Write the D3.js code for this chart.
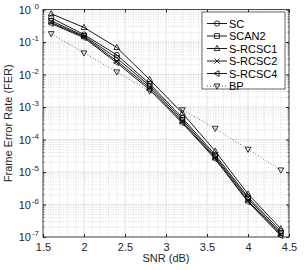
<!DOCTYPE html>
<html><head><meta charset="utf-8">
<script src="https://cdn.jsdelivr.net/npm/d3@7"></script>
<style>body{margin:0;background:#fff;} svg{display:block;font-family:"Liberation Sans",Arial,sans-serif;}</style>
</head><body>
<svg id="c" width="305" height="270"></svg>
<script>
const snr = [1.6, 2.0, 2.4, 2.8, 3.2, 3.6, 4.0, 4.4];
const seriesNames = ["SC", "SCAN2", "S-RCSC1", "S-RCSC2", "S-RCSC4", "BP"];
const SC      = [0.55, 0.17, 0.040, 0.0052, 4.6e-4, 3.4e-5, 1.7e-6, 1.5e-7];
const SCAN2   = [0.45, 0.155, 0.032, 0.0045, 4.0e-4, 3.0e-5, 1.5e-6, 1.3e-7];
const SRCSC1  = [0.74, 0.28, 0.068, 0.0070, 6.5e-4, 4.4e-5, 2.1e-6, 1.8e-7];
const SRCSC2  = [0.40, 0.145, 0.026, 0.0039, 3.5e-4, 2.7e-5, 1.3e-6, 1.2e-7];
const SRCSC4  = [0.37, 0.135, 0.023, 0.0034, 3.2e-4, 2.5e-5, 1.2e-6, 1.1e-7];
const BP      = [0.18, 0.046, 0.012, 0.0031, 8.2e-4, 2.2e-4, 5.0e-5, 1.15e-5];
const xTicks = [1.5, 2, 2.5, 3, 3.5, 4, 4.5];
const yExps = [0, -1, -2, -3, -4, -5, -6, -7];

const data = [
  {name: "SC", vals: SC, marker: "circle", dash: null},
  {name: "SCAN2", vals: SCAN2, marker: "square", dash: null},
  {name: "S-RCSC1", vals: SRCSC1, marker: "triUp", dash: null},
  {name: "S-RCSC2", vals: SRCSC2, marker: "x", dash: null},
  {name: "S-RCSC4", vals: SRCSC4, marker: "triLeft", dash: null},
  {name: "BP", vals: BP, marker: "triDown", dash: "1,2"}
];

const L = 43, R = 289, T = 9.5, B = 237;
const svg = d3.select("#c");
const x = d3.scaleLinear().domain([1.5, 4.5]).range([L, R]);
const y = d3.scaleLog().domain([1e-7, 1]).range([B, T]);

// grid
const g = svg.append("g");
const xMinor = d3.range(15, 46).map(v => v / 10);
xMinor.forEach(v => {
  if (Math.abs(v * 2 - Math.round(v * 2)) > 1e-6) {
    g.append("line").attr("x1", x(v)).attr("x2", x(v)).attr("y1", T).attr("y2", B)
      .attr("stroke", "#c8c8c8").attr("stroke-width", 0.6).attr("stroke-dasharray", "1,1.5");
  }
});
for (let e = -7; e < 0; e++) {
  for (let m = 2; m <= 9; m++) {
    const v = m * Math.pow(10, e);
    g.append("line").attr("x1", L).attr("x2", R).attr("y1", y(v)).attr("y2", y(v))
      .attr("stroke", "#c8c8c8").attr("stroke-width", 0.6).attr("stroke-dasharray", "1,1.5");
  }
}
xTicks.forEach(v => {
  g.append("line").attr("x1", x(v)).attr("x2", x(v)).attr("y1", T).attr("y2", B)
    .attr("stroke", "#dcdcdc").attr("stroke-width", 0.8);
});
yExps.forEach(e => {
  g.append("line").attr("x1", L).attr("x2", R).attr("y1", y(Math.pow(10, e))).attr("y2", y(Math.pow(10, e)))
    .attr("stroke", "#dcdcdc").attr("stroke-width", 0.8);
});

// axes
const xAxis = d3.axisBottom(x).tickValues(xTicks).tickSize(-3).tickPadding(6).tickFormat(d => d3.format("")(d));
const xa = svg.append("g").attr("transform", `translate(0,${B})`).call(xAxis);
xa.select(".domain").remove();
xa.selectAll("text").attr("font-size", 11).attr("fill", "#262626").attr("font-family", "Liberation Sans, Arial, sans-serif");
xa.selectAll("line").attr("stroke", "#262626");
const xTop = d3.axisTop(x).tickValues(xTicks).tickSize(-3).tickFormat("");
const xt = svg.append("g").attr("transform", `translate(0,${T})`).call(xTop);
xt.select(".domain").remove(); xt.selectAll("line").attr("stroke", "#262626");

const yAxis = d3.axisLeft(y).tickValues(yExps.map(e => Math.pow(10, e))).tickSize(-3).tickFormat("");
const ya = svg.append("g").attr("transform", `translate(${L},0)`).call(yAxis);
ya.select(".domain").remove(); ya.selectAll("line").attr("stroke", "#262626");
const yR = d3.axisRight(y).tickValues(yExps.map(e => Math.pow(10, e))).tickSize(-3).tickFormat("");
const yr = svg.append("g").attr("transform", `translate(${R},0)`).call(yR);
yr.select(".domain").remove(); yr.selectAll("line").attr("stroke", "#262626");
// minor y ticks
for (let e = -7; e < 0; e++) {
  for (let m = 2; m <= 9; m++) {
    const v = m * Math.pow(10, e);
    svg.append("line").attr("x1", L).attr("x2", L + 1.5).attr("y1", y(v)).attr("y2", y(v)).attr("stroke", "#262626").attr("stroke-width", 0.6);
    svg.append("line").attr("x1", R).attr("x2", R - 1.5).attr("y1", y(v)).attr("y2", y(v)).attr("stroke", "#262626").attr("stroke-width", 0.6);
  }
}

yExps.forEach(e => {
  const t = svg.append("text").attr("x", L - 12).attr("y", y(Math.pow(10, e)) + 4)
    .attr("text-anchor", "end").attr("font-size", 11).attr("fill", "#262626");
  t.append("tspan").text("10");
  t.append("tspan").attr("x", L - 4).attr("dy", -5).attr("font-size", 8).attr("text-anchor", "end").text(String(e));
});

svg.append("rect").attr("x", L).attr("y", T).attr("width", R - L).attr("height", B - T)
  .attr("fill", "none").attr("stroke", "#262626").attr("stroke-width", 0.8);

svg.append("text").attr("x", (L + R) / 2).attr("y", 262).attr("text-anchor", "middle")
  .attr("font-size", 11).attr("fill", "#262626").text("SNR (dB)");
svg.append("text").attr("transform", `translate(12,${(T + B) / 2}) rotate(-90)`).attr("text-anchor", "middle")
  .attr("font-size", 11).attr("fill", "#262626").text("Frame Error Rate (FER)");

function drawMarker(sel, type, cx, cy) {
  const s = 2.6;
  const st = {fill: "none", stroke: "#000", "stroke-width": 0.8};
  let el;
  if (type === "circle") el = sel.append("circle").attr("cx", cx).attr("cy", cy).attr("r", s);
  else if (type === "square") el = sel.append("rect").attr("x", cx - s * 0.9).attr("y", cy - s * 0.9).attr("width", s * 1.8).attr("height", s * 1.8);
  else if (type === "triUp") el = sel.append("path").attr("d", `M${cx},${cy - s * 1.2}L${cx + s * 1.1},${cy + s * 0.8}L${cx - s * 1.1},${cy + s * 0.8}Z`);
  else if (type === "triDown") el = sel.append("path").attr("d", `M${cx},${cy + s * 1.2}L${cx + s * 1.1},${cy - s * 0.8}L${cx - s * 1.1},${cy - s * 0.8}Z`);
  else if (type === "triLeft") el = sel.append("path").attr("d", `M${cx - s * 1.2},${cy}L${cx + s * 0.8},${cy - s * 1.1}L${cx + s * 0.8},${cy + s * 1.1}Z`);
  else if (type === "x") el = sel.append("path").attr("d", `M${cx - s},${cy - s}L${cx + s},${cy + s}M${cx - s},${cy + s}L${cx + s},${cy - s}`);
  Object.entries(st).forEach(([k, v]) => el.attr(k, v));
}

const line = d3.line().x((d, i) => x(snr[i])).y(d => y(d));
const plot = svg.append("g");
data.forEach(s => {
  plot.append("path").datum(s.vals).attr("d", line).attr("fill", "none")
    .attr("stroke", s.dash ? "#333" : "#000").attr("stroke-width", s.dash ? 0.7 : 0.9)
    .attr("stroke-dasharray", s.dash);
  s.vals.forEach((v, i) => drawMarker(plot, s.marker, x(snr[i]), y(v)));
});

// legend
const lg = svg.append("g");
lg.append("rect").attr("x", 202).attr("y", 12).attr("width", 83).attr("height", 77)
  .attr("fill", "#fff").attr("stroke", "#262626").attr("stroke-width", 0.7);
data.forEach((s, i) => {
  const yy = 23.5 + i * 12.5;
  lg.append("line").attr("x1", 207).attr("x2", 227).attr("y1", yy).attr("y2", yy)
    .attr("stroke", "#000").attr("stroke-width", s.dash ? 0.7 : 0.9).attr("stroke-dasharray", s.dash);
  drawMarker(lg, s.marker, 217, yy);
  lg.append("text").attr("x", 229).attr("y", yy + 4).attr("font-size", 11).attr("fill", "#000").text(s.name);
});
</script>
</body></html>
